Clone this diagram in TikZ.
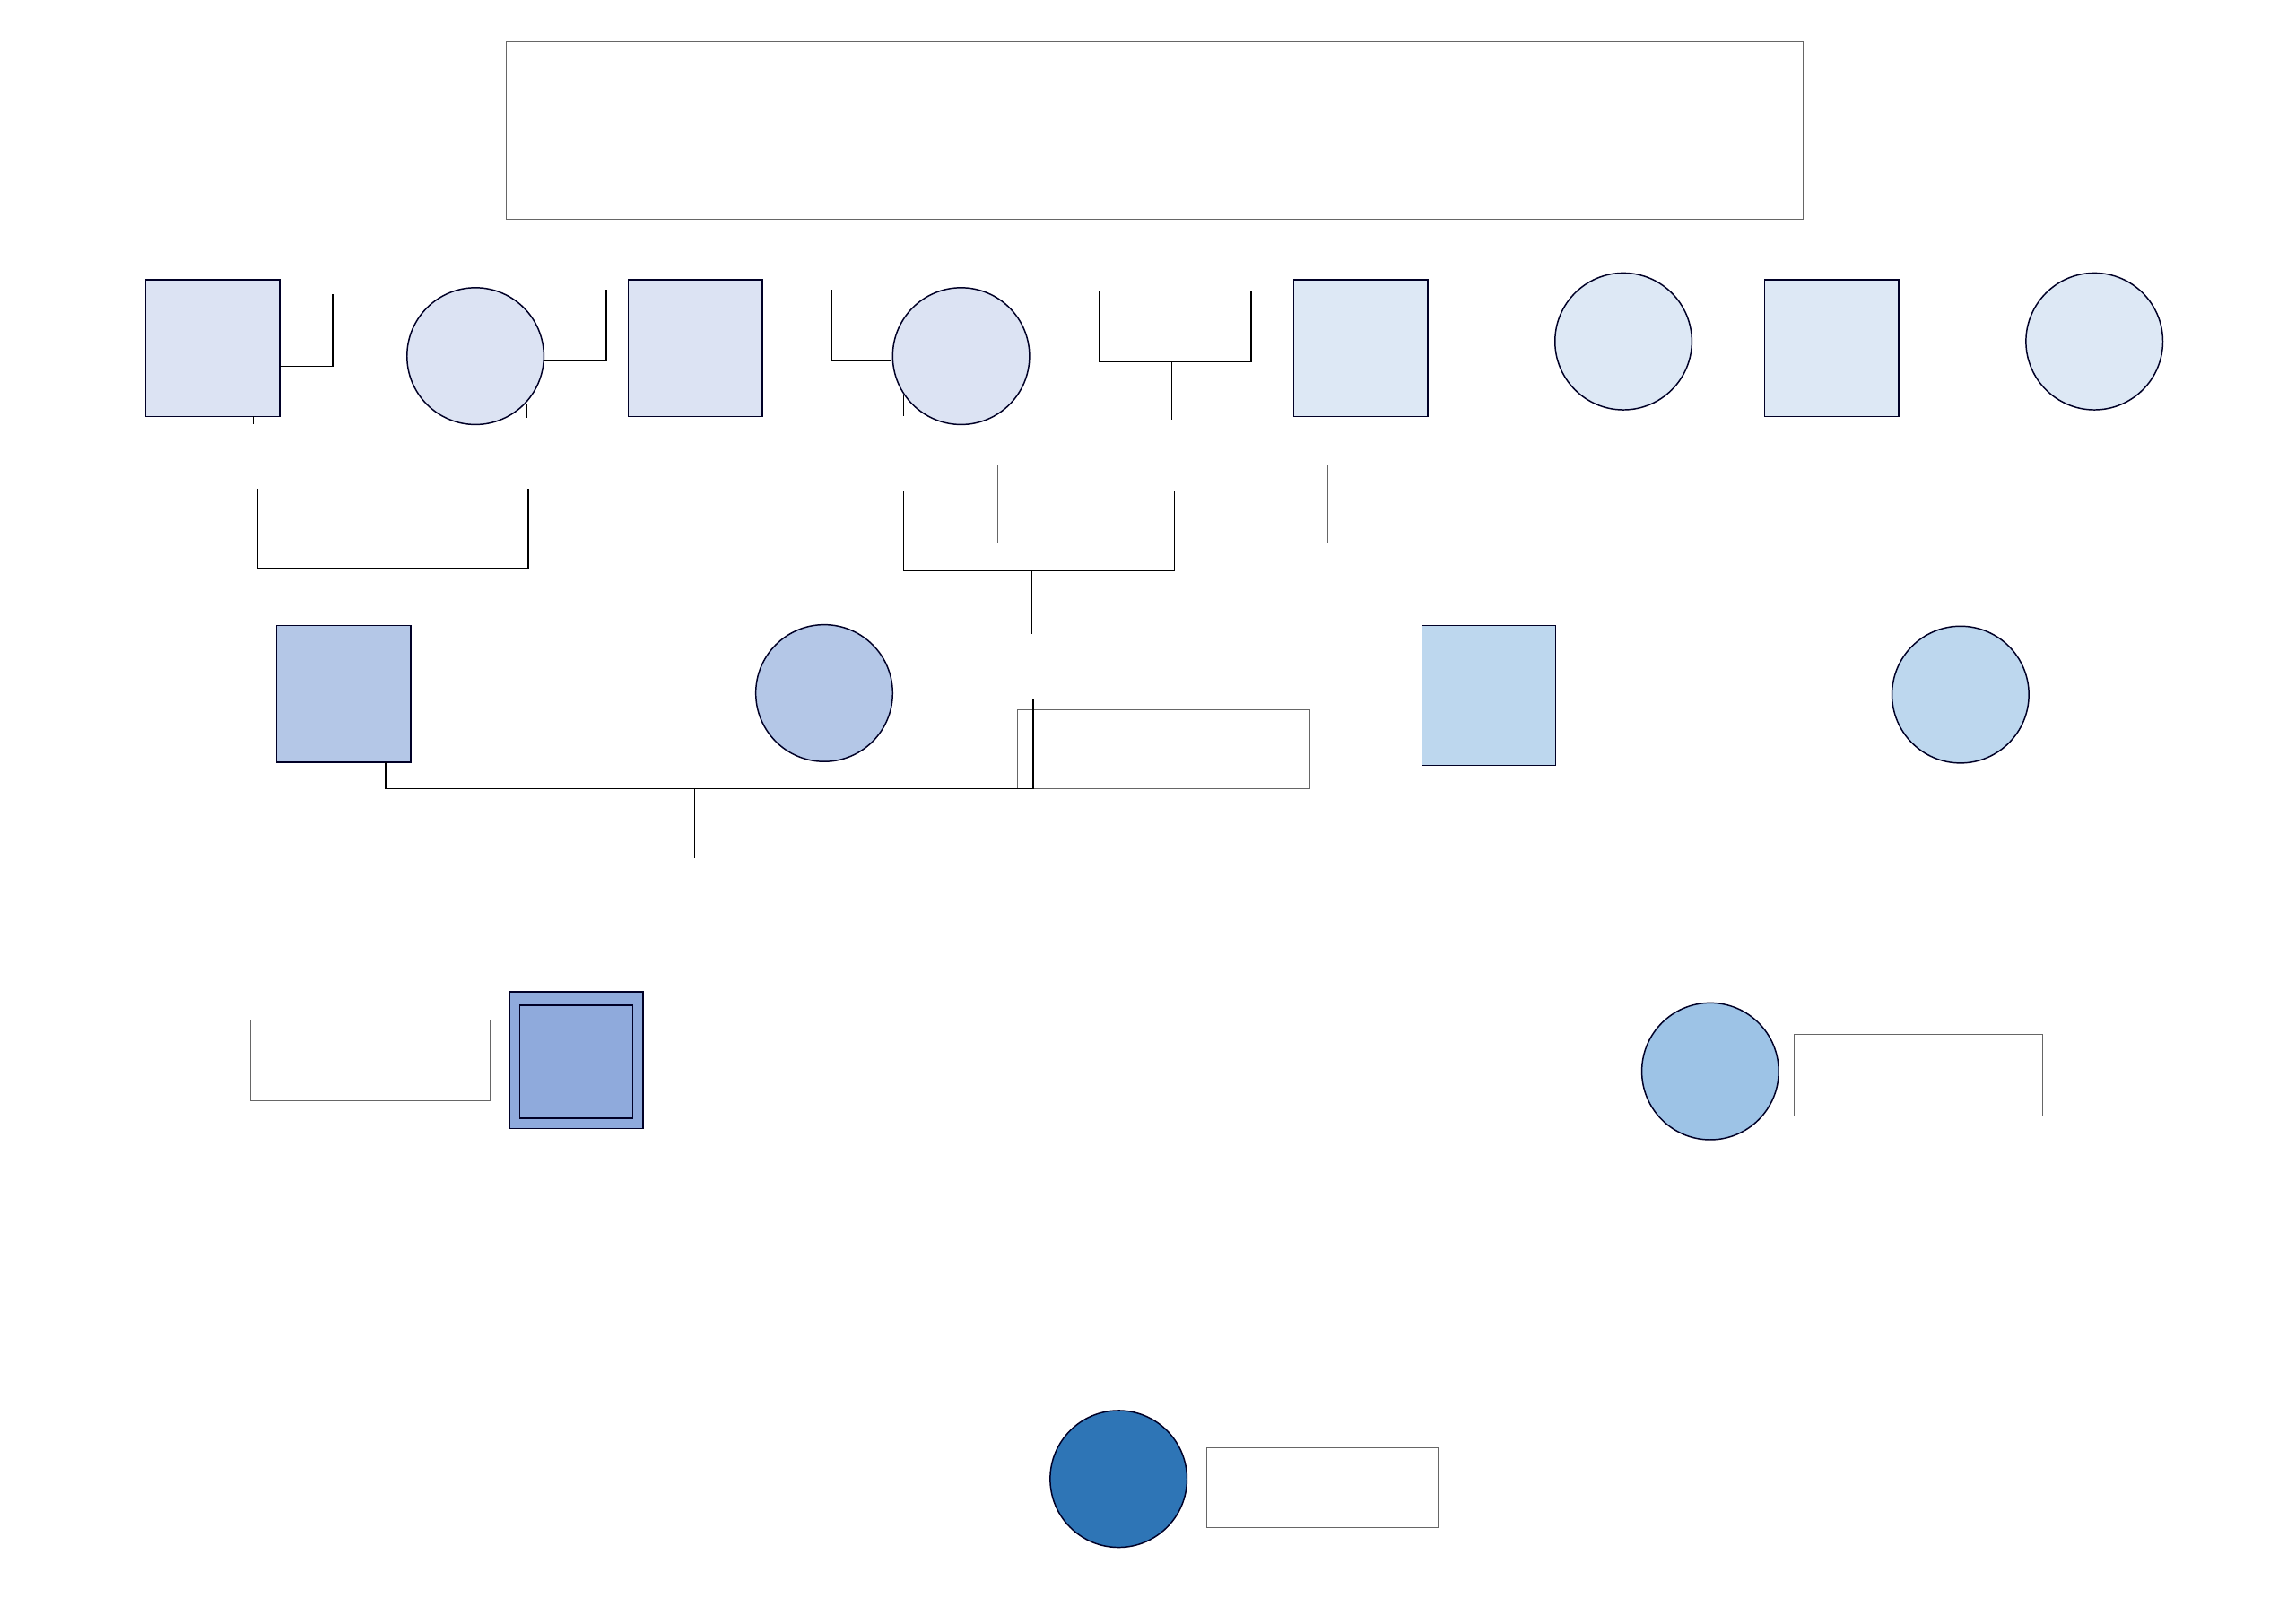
\documentclass[tikz,border=0pt]{standalone}
\begin{document}
\begin{tikzpicture}[x=1pt,y=-1pt,
 lbl/.style={draw=black!60,line width=0.5pt},
 ind/.style={draw=black!85!blue,line width=0.9pt},
 ln/.style={draw=black,line width=0.8pt}]
\useasboundingbox (0,0) rectangle (1560,1103);
\definecolor{ga}{HTML}{DCE3F3}\definecolor{gb}{HTML}{DDE8F5}
\definecolor{gc}{HTML}{B4C7E7}\definecolor{gd}{HTML}{BDD7EE}
\definecolor{ge}{HTML}{8FAADC}\definecolor{gf}{HTML}{9DC3E6}\definecolor{gg}{HTML}{2E75B6}
\draw[lbl] (344,28) rectangle (1225,149);
\draw[ind,fill=ga] (99,190) rectangle (190,283);
\draw[ind,fill=ga] (323,242) circle (46.5);
\draw[ind,fill=ga] (427,190) rectangle (518,283);
\draw[ind,fill=ga] (653,242) circle (46.5);
\draw[ind,fill=gb] (879,190) rectangle (970,283);
\draw[ind,fill=gb] (1103,232) circle (46.5);
\draw[ind,fill=gb] (1199,190) rectangle (1290,283);
\draw[ind,fill=gb] (1423,232) circle (46.5);
\draw[ln] (190,249)--(226,249)--(226,200);
\draw[ln] (370,245)--(412,245)--(412,197);
\draw[ln] (565,197)--(565,245)--(606,245);
\draw[ln] (747,198)--(747,246)--(850,246)--(850,198);
\draw[ln] (796,246)--(796,285);
\draw[ln] (172,283)--(172,288);
\draw[ln] (358,275)--(358,284);
\draw[ln] (614,268)--(614,283);
\draw[lbl] (678,316) rectangle (902,369);
\draw[ln] (175,332)--(175,386)--(359,386)--(359,332);
\draw[ln] (263,386)--(263,425);
\draw[ln] (614,334)--(614,388)--(798,388)--(798,334);
\draw[ln] (701,388)--(701,431);
\draw[ind,fill=gc] (188,425) rectangle (279,518);
\draw[ind,fill=gc] (560,471) circle (46.5);
\draw[ind,fill=gd] (966,425) rectangle (1057,520);
\draw[ind,fill=gd] (1332,472) circle (46.5);
\draw[lbl] (691,482) rectangle (890,536);
\draw[ln] (262,518)--(262,536)--(702,536)--(702,475);
\draw[ln] (472,536)--(472,583);
\draw[lbl] (170,693) rectangle (333,748);
\draw[ind,fill=ge] (346,674) rectangle (437,767);
\draw[ind] (353,683) rectangle (430,760);
\draw[ind,fill=gf] (1162,728) circle (46.5);
\draw[lbl] (1219,703) rectangle (1388,758);
\draw[ind,fill=gg] (760,1005) circle (46.5);
\draw[lbl] (820,984) rectangle (977,1038);
\end{tikzpicture}
\end{document}
